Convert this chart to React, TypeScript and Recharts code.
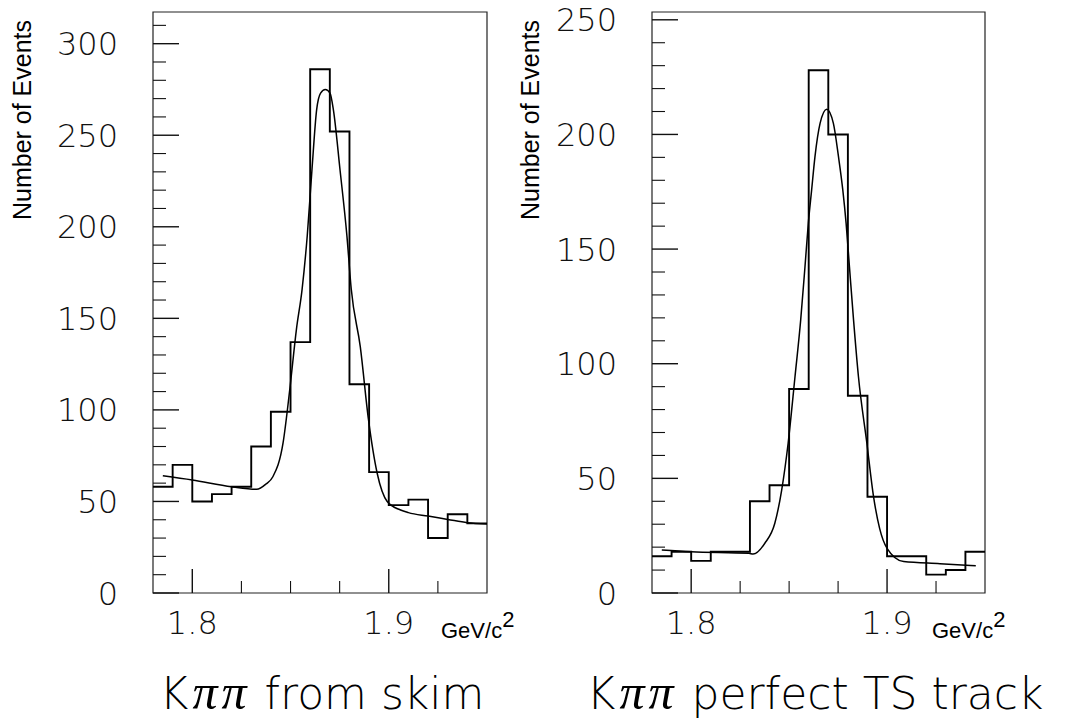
import React from 'react';
import { ComposedChart, Line, XAxis, YAxis, ReferenceArea } from 'recharts';

// ---------- data ----------
const binLowEdges = [1.78, 1.79, 1.8, 1.81, 1.82, 1.83, 1.84, 1.85, 1.86, 1.87, 1.88, 1.89, 1.9, 1.91, 1.92, 1.93, 1.94];
const histUpperEdge = 1.95;

const leftCounts = [58, 70, 50, 54, 58, 80, 99, 137, 286, 252, 114, 66, 48, 51, 30, 43, 38];
const rightCounts = [16, 18, 14, 18, 18, 40, 47, 89, 228, 200, 86, 42, 16, 16, 8, 10, 18];

const leftFitX = [1.785, 1.8, 1.82, 1.8328, 1.8375, 1.841, 1.8462, 1.8496, 1.853, 1.8559, 1.8585, 1.8609, 1.8633, 1.8653, 1.8677, 1.8701, 1.8718, 1.8752, 1.8787, 1.8809, 1.8855, 1.8897, 1.8941, 1.8992, 1.906, 1.91, 1.92, 1.93, 1.94, 1.9505];
const leftFitY = [64, 61.7, 58, 56.6, 59.5, 63.5, 82, 111, 144, 166, 195, 231, 264, 273, 275, 273, 264, 231, 195, 166, 134.5, 94.5, 65.4, 50, 45.3, 43.9, 42, 40.2, 38.4, 37.7];

const rightFitX = [1.785, 1.8, 1.8295, 1.8316, 1.8376, 1.8427, 1.8462, 1.8495, 1.853, 1.8559, 1.8581, 1.8598, 1.8615, 1.8632, 1.8658, 1.8692, 1.8726, 1.8752, 1.8774, 1.8791, 1.8808, 1.8829, 1.8854, 1.8897, 1.8931, 1.8962, 1.9, 1.9085, 1.927, 1.9453];
const rightFitY = [18.75, 18, 17.3, 17, 21.7, 30.4, 44.9, 65.3, 94.3, 119, 142.3, 161.2, 175.8, 190.3, 204.8, 211, 204.8, 190.3, 175.8, 161.2, 142.3, 119, 94.3, 65.3, 42, 28.2, 19.5, 13.7, 12.8, 11.9];

const xTicks = [1.8, 1.825, 1.85, 1.875, 1.9, 1.925];
const xTickLabels = ['1.8', '1.9'];

const leftYTicks = [0, 10, 20, 30, 40, 50, 60, 70, 80, 90, 100, 110, 120, 130, 140, 150, 160, 170, 180, 190, 200, 210, 220, 230, 240, 250, 260, 270, 280, 290, 300, 310];
const leftYLabels = [0, 50, 100, 150, 200, 250, 300];
const rightYTicks = [0, 10, 20, 30, 40, 50, 60, 70, 80, 90, 100, 110, 120, 130, 140, 150, 160, 170, 180, 190, 200, 210, 220, 230, 240, 250];
const rightYLabels = [0, 50, 100, 150, 200, 250];

const yAxisTitle = 'Number of Events';
const xUnit = 'GeV/c';
const titleSymbol = 'K';
const titlePi = '\u03c0\u03c0';
const leftTitleRest = ' from skim';
const rightTitleRest = ' perfect TS track';

// ---------- layout ----------
const CHART_H = 719;
const TOP = 12;
const X_AXIS_H = 126;
const PLOT_BOTTOM = CHART_H - X_AXIS_H;
const THIN = '"DejaVu Sans", "Noto Sans", sans-serif';
const ARIAL = '"Liberation Sans", Arial, sans-serif';
const SERIF = '"Liberation Serif", "DejaVu Serif", serif';

const histData = (counts: number[]) =>
  binLowEdges.map((x, i) => ({ x, y: counts[i] })).concat([{ x: histUpperEdge, y: counts[counts.length - 1] }]);
const fitData = (xs: number[], ys: number[]) => xs.map((x, i) => ({ x, y: ys[i] }));

function makeYTick(plotLeft: number, labels: number[]) {
  return (props: any) => {
    const { y, payload } = props;
    const v = payload.value;
    const major = labels.includes(v);
    return (
      <g>
        <line x1={plotLeft} x2={plotLeft + (major ? 26 : 13)} y1={y} y2={y} stroke="#111" strokeWidth={major ? 1.4 : 1.1} />
        {major && (
          <text x={plotLeft - 35} y={y} dy="0.36em" textAnchor="end" fontFamily={THIN} fontWeight={200} fontSize={32} fill="#111">
            {v}
          </text>
        )}
      </g>
    );
  };
}

function makeXTick() {
  return (props: any) => {
    const { x, payload } = props;
    const v = payload.value;
    const label = xTickLabels.find((l) => Math.abs(parseFloat(l) - v) < 1e-6);
    const major = !!label;
    return (
      <g>
        <line x1={x} x2={x} y1={PLOT_BOTTOM} y2={PLOT_BOTTOM - (major ? 24 : 12)} stroke="#111" strokeWidth={major ? 1.4 : 1.1} />
        {label && (
          <text x={x} y={PLOT_BOTTOM + 29} dy="0.36em" textAnchor="middle" fontFamily={THIN} fontWeight={200} fontSize={32} fill="#111">
            {label}
          </text>
        )}
      </g>
    );
  };
}

interface PanelProps {
  left: number;
  width: number;
  yAxisW: number;
  marginRight: number;
  ymax: number;
  yTicks: number[];
  yLabels: number[];
  counts: number[];
  fx: number[];
  fy: number[];
}

function Panel(p: PanelProps) {
  return (
    <div style={{ position: 'absolute', left: p.left, top: 0 }}>
      <ComposedChart width={p.width} height={CHART_H} margin={{ top: TOP, right: p.marginRight, bottom: 0, left: 0 }}>
        <XAxis
          dataKey="x"
          type="number"
          domain={[1.78, 1.95]}
          allowDataOverflow
          ticks={xTicks}
          interval={0}
          height={X_AXIS_H}
          axisLine={false}
          tickLine={false}
          tick={makeXTick()}
        />
        <YAxis
          type="number"
          domain={[0, p.ymax]}
          allowDataOverflow
          ticks={p.yTicks}
          interval={0}
          width={p.yAxisW}
          axisLine={false}
          tickLine={false}
          tick={makeYTick(p.yAxisW, p.yLabels)}
        />
        <ReferenceArea x1={1.78} x2={1.95} y1={0} y2={p.ymax} fill="none" stroke="#222" strokeWidth={1.2} fillOpacity={0} />
        <Line data={histData(p.counts)} dataKey="y" type="stepAfter" stroke="#000" strokeWidth={1.9} dot={false} activeDot={false} isAnimationActive={false} />
        <Line data={fitData(p.fx, p.fy)} dataKey="y" type="monotone" stroke="#000" strokeWidth={1.5} dot={false} activeDot={false} isAnimationActive={false} />
      </ComposedChart>
    </div>
  );
}

const abs = (s: React.CSSProperties): React.CSSProperties => ({ position: 'absolute', whiteSpace: 'nowrap', ...s });

function Title({ cx, rest }: { cx: number; rest: string }) {
  return (
    <div style={abs({ left: cx, top: 692, transform: 'translate(-50%, -50%)', fontFamily: THIN, fontWeight: 200, fontSize: 44, color: '#000' })}>
      {titleSymbol}
      <span style={{ fontFamily: SERIF, fontStyle: 'italic', fontWeight: 400, fontSize: 50, letterSpacing: 4, marginLeft: 4 }}>{titlePi}</span>
      {rest}
    </div>
  );
}

export default function App() {
  return (
    <div style={{ position: 'absolute', left: 0, top: 0, width: 1068, height: 719, background: '#fff', overflow: 'hidden' }}>
      <Panel left={0} width={534} yAxisW={153} marginRight={47} ymax={317.3} yTicks={leftYTicks} yLabels={leftYLabels} counts={leftCounts} fx={leftFitX} fy={leftFitY} />
      <Panel left={500} width={568} yAxisW={152} marginRight={83} ymax={253.4} yTicks={rightYTicks} yLabels={rightYLabels} counts={rightCounts} fx={rightFitX} fy={rightFitY} />

      <div style={abs({ left: 22, top: 120, transform: 'translate(-50%, -50%) rotate(-90deg)', fontFamily: ARIAL, fontSize: 25, color: '#000' })}>{yAxisTitle}</div>
      <div style={abs({ left: 530, top: 120, transform: 'translate(-50%, -50%) rotate(-90deg)', fontFamily: ARIAL, fontSize: 25, color: '#000' })}>{yAxisTitle}</div>

      <div style={abs({ left: 441, top: 618, fontFamily: ARIAL, fontSize: 22, color: '#000' })}>
        {xUnit}
        <span style={{ position: 'relative', top: -11, fontSize: 22 }}>2</span>
      </div>
      <div style={abs({ left: 932, top: 618, fontFamily: ARIAL, fontSize: 22, color: '#000' })}>
        {xUnit}
        <span style={{ position: 'relative', top: -11, fontSize: 22 }}>2</span>
      </div>

      <Title cx={322} rest={leftTitleRest} />
      <Title cx={815} rest={rightTitleRest} />
    </div>
  );
}
